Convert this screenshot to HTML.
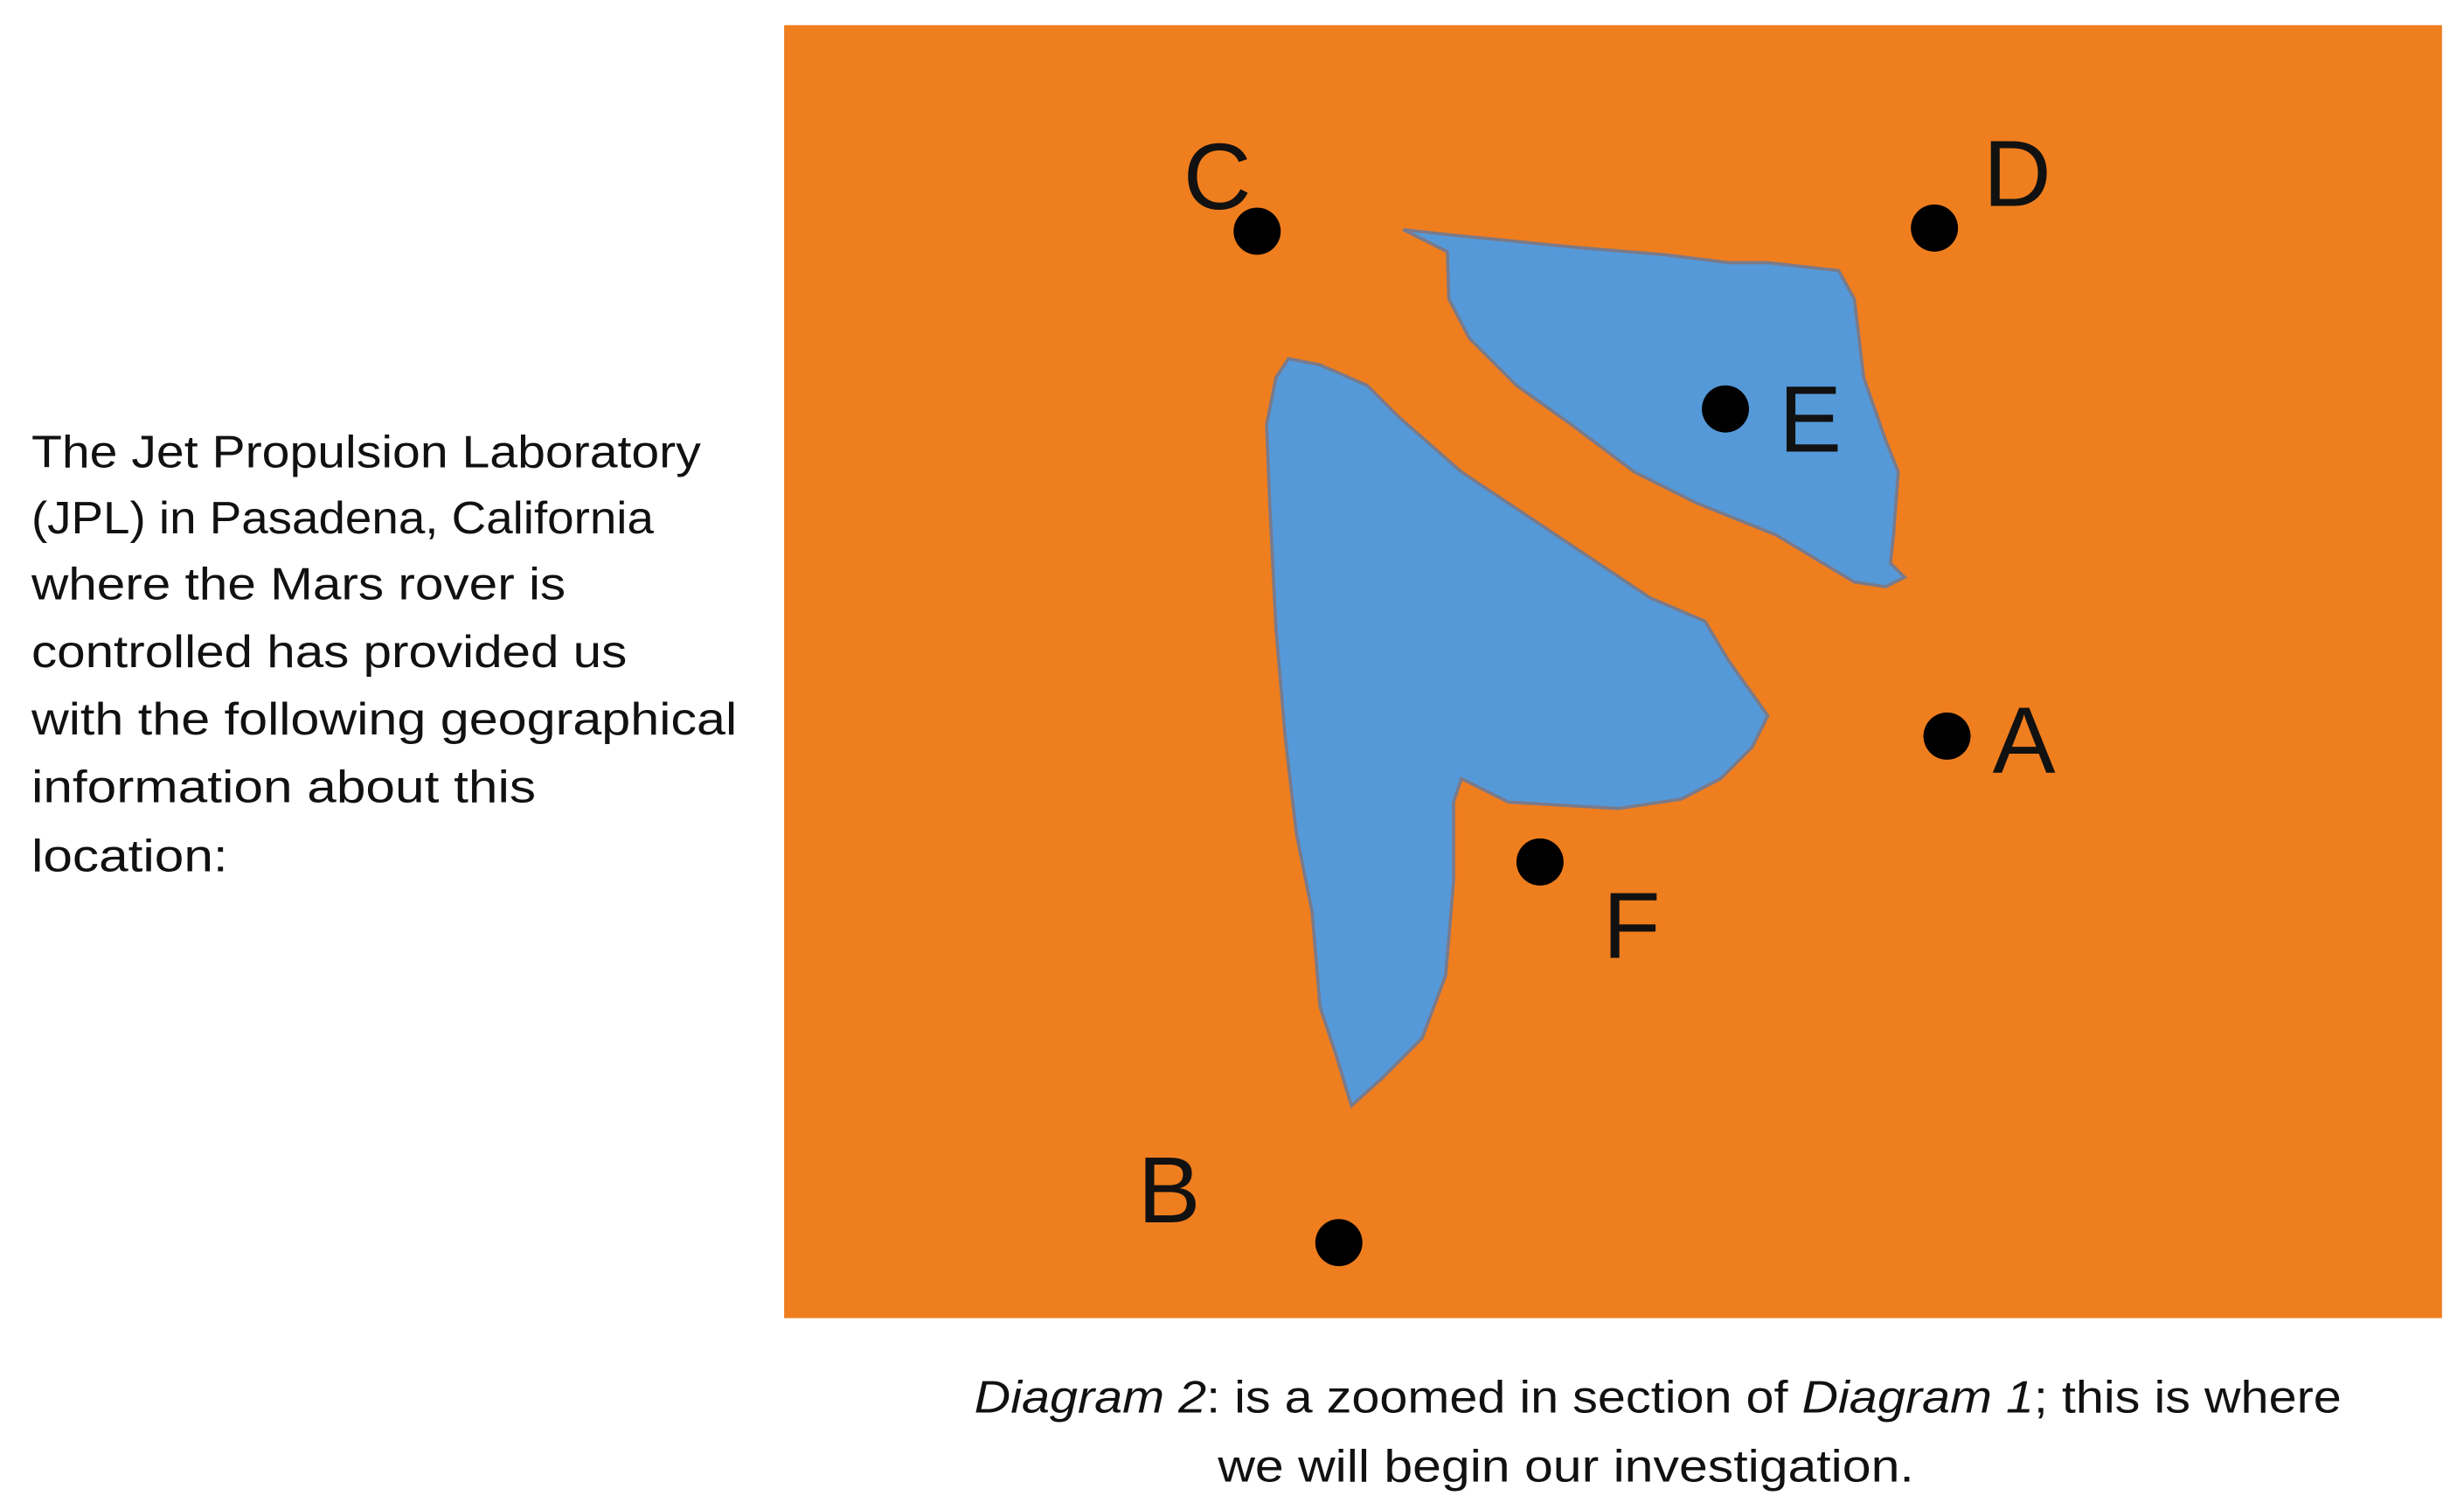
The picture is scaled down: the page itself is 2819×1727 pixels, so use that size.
<!DOCTYPE html>
<html><head><meta charset="utf-8"><style>html,body{margin:0;padding:0;background:#fff;overflow:hidden}svg{display:block}</style></head>
<body>
<svg width="2819" height="1727" viewBox="0 0 1568 960" preserveAspectRatio="none" xmlns="http://www.w3.org/2000/svg">
<rect x="0" y="0" width="1568" height="960" fill="#fff"/>
<rect x="499" y="16" width="1055" height="822" fill="#ef7e1f"/>
<polygon fill="#5599d8" stroke="#7a7a8a" stroke-width="2" points="893,146 920,149 1000,157 1060,162 1100,167 1125,167 1170,172 1180,190 1186,240 1200,280 1208,300 1205,340 1203,358 1212,367 1200,373 1180,370 1160,358 1130,340 1080,320 1040,300 1000,270 965,245 935,215 922,190 921,160"/>
<polygon fill="#5599d8" stroke="#7a7a8a" stroke-width="2" points="820,228 840,232 870,245 890,265 930,300 975,330 1020,360 1050,380 1085,395 1100,420 1125,455 1115,475 1095,495 1070,508 1030,514 960,510 930,495 925,510 925,560 920,620 905,660 880,685 860,703 850,670 840,640 835,580 825,530 818,470 812,400 808,320 806,270 812,240"/>
<g fill="#000">
<circle cx="800" cy="147" r="15"/><circle cx="1231" cy="145" r="15"/><circle cx="1098" cy="260" r="15"/>
<circle cx="1239" cy="468" r="15"/><circle cx="980" cy="548" r="15"/><circle cx="852" cy="790" r="15"/>
</g>
<g font-family="Liberation Sans, sans-serif" font-size="60" fill="#111">
<text x="753" y="133">C</text><text x="1262" y="131">D</text><text x="1132" y="287">E</text>
<text x="1268" y="491">A</text><text x="1020" y="609">F</text><text x="724" y="777">B</text>
</g>
<g font-family="Liberation Sans, sans-serif" font-size="29" fill="#111" lengthAdjust="spacingAndGlyphs">
<text x="20" y="297" textLength="426" lengthAdjust="spacingAndGlyphs">The Jet Propulsion Laboratory</text>
<text x="20" y="339" textLength="396" lengthAdjust="spacingAndGlyphs">(JPL) in Pasadena, California</text>
<text x="20" y="381" textLength="340" lengthAdjust="spacingAndGlyphs">where the Mars rover is</text>
<text x="20" y="424" textLength="379" lengthAdjust="spacingAndGlyphs">controlled has provided us</text>
<text x="20" y="467" textLength="449" lengthAdjust="spacingAndGlyphs">with the following geographical</text>
<text x="20" y="510" textLength="321" lengthAdjust="spacingAndGlyphs">information about this</text>
<text x="20" y="554" textLength="125" lengthAdjust="spacingAndGlyphs">location:</text>
<text x="620" y="898" textLength="870" lengthAdjust="spacingAndGlyphs"><tspan font-style="italic">Diagram 2</tspan>: is a zoomed in section of <tspan font-style="italic">Diagram 1</tspan>; this is where</text>
<text x="775" y="942" textLength="443" lengthAdjust="spacingAndGlyphs">we will begin our investigation.</text>
</g>
</svg>
</body></html>
